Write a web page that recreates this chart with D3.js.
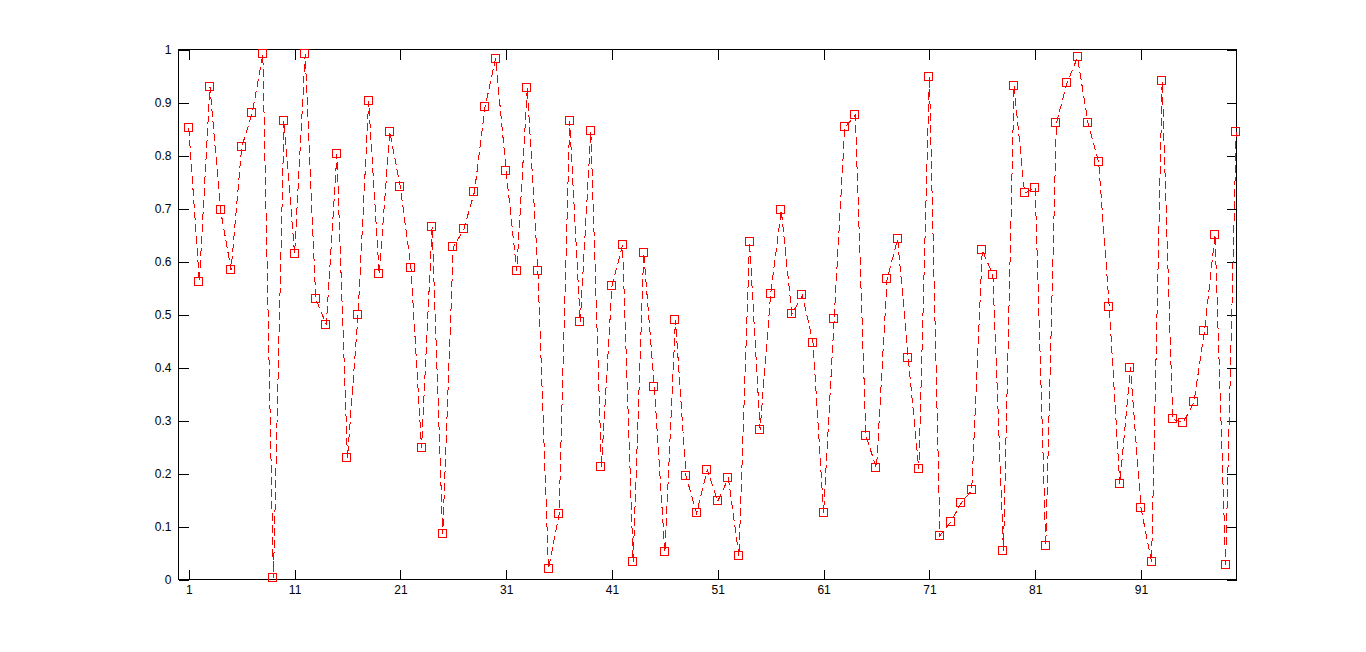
<!DOCTYPE html>
<html>
<head>
<meta charset="utf-8">
<script src="https://cdn.jsdelivr.net/npm/d3@7"></script>
<style>
html, body { margin: 0; padding: 0; background: #ffffff; overflow: hidden; }
svg { display: block; }
</style>
</head>
<body>
<svg id="chart" width="1366" height="652"></svg>
<script>
// ---- data ----
const xIndex = [1,2,3,4,5,6,7,8,9,10,11,12,13,14,15,16,17,18,19,20,
  21,22,23,24,25,26,27,28,29,30,31,32,33,34,35,36,37,38,39,40,
  41,42,43,44,45,46,47,48,49,50,51,52,53,54,55,56,57,58,59,60,
  61,62,63,64,65,66,67,68,69,70,71,72,73,74,75,76,77,78,79,80,
  81,82,83,84,85,86,87,88,89,90,91,92,93,94,95,96,97,98,99,100];

const yValues = [0.852,0.562,0.930,0.697,0.584,0.816,0.880,0.991,0.002,0.866,
  0.614,0.991,0.530,0.481,0.802,0.229,0.500,0.902,0.576,0.845,
  0.740,0.588,0.249,0.666,0.085,0.627,0.661,0.731,0.891,0.983,
  0.770,0.582,0.928,0.582,0.020,0.123,0.865,0.486,0.846,0.212,
  0.554,0.631,0.033,0.616,0.364,0.051,0.490,0.195,0.125,0.207,
  0.148,0.191,0.044,0.637,0.283,0.539,0.697,0.501,0.536,0.447,
  0.125,0.492,0.853,0.876,0.271,0.210,0.567,0.642,0.418,0.208,
  0.949,0.083,0.108,0.144,0.168,0.621,0.575,0.053,0.932,0.729,
  0.739,0.064,0.861,0.936,0.985,0.861,0.787,0.515,0.180,0.400,
  0.135,0.033,0.940,0.302,0.296,0.334,0.469,0.650,0.027,0.844];

const xTickValues = [1,11,21,31,41,51,61,71,81,91];
const xTickLabels = ["1","11","21","31","41","51","61","71","81","91"];
const yTickValues = [0,0.1,0.2,0.3,0.4,0.5,0.6,0.7,0.8,0.9,1];
const yTickLabels = ["0","0.1","0.2","0.3","0.4","0.5","0.6","0.7","0.8","0.9","1"];

// ---- layout ----
const svg = d3.select("#chart");
const boxLeft = 178.5, boxRight = 1236.5, boxTop = 49.5, boxBottom = 579.5;

const x = d3.scaleLinear().domain([0, 100]).range([178.2, 1236.2]);
const y = d3.scaleLinear().domain([0, 1]).range([boxBottom, boxTop]);

const fontFamily = "'Liberation Sans', Arial, Helvetica, sans-serif";

// box
svg.append("rect")
  .attr("x", boxLeft).attr("y", boxTop)
  .attr("width", boxRight - boxLeft).attr("height", boxBottom - boxTop)
  .attr("fill", "none").attr("stroke", "#000").attr("stroke-width", 1)
  .attr("shape-rendering", "crispEdges");

function styleAxis(g, showText) {
  g.select(".domain").remove();
  g.selectAll(".tick line").attr("stroke", "#000").attr("shape-rendering", "crispEdges");
  g.selectAll(".tick text")
    .attr("fill", "#000")
    .style("font-family", fontFamily)
    .style("font-size", "12px");
  if (!showText) g.selectAll(".tick text").remove();
}

// bottom axis
svg.append("g")
  .attr("transform", `translate(0,${boxBottom})`)
  .call(d3.axisBottom(x).tickValues(xTickValues)
    .tickFormat((d, i) => xTickLabels[i]).tickSize(-10).tickPadding(6))
  .call(g => styleAxis(g, true));

// top axis (ticks only)
svg.append("g")
  .attr("transform", `translate(0,${boxTop})`)
  .call(d3.axisTop(x).tickValues(xTickValues).tickSize(-10))
  .call(g => styleAxis(g, false));

// left axis
svg.append("g")
  .attr("transform", `translate(${boxLeft},0)`)
  .call(d3.axisLeft(y).tickValues(yTickValues)
    .tickFormat((d, i) => yTickLabels[i]).tickSize(-10).tickPadding(7))
  .call(g => styleAxis(g, true));

// right axis (ticks only)
svg.append("g")
  .attr("transform", `translate(${boxRight},0)`)
  .call(d3.axisRight(y).tickValues(yTickValues).tickSize(-10))
  .call(g => styleAxis(g, false));

const pts = xIndex.map((d, i) => [d, yValues[i]]);

// dashed line
svg.append("path")
  .datum(pts)
  .attr("d", d3.line().x(d => x(d[0])).y(d => y(d[1])))
  .attr("fill", "none")
  .attr("stroke", "#ff0000")
  .attr("stroke-width", 1)
  .attr("stroke-dasharray", "8,4")
  .attr("shape-rendering", "crispEdges");

// square markers
svg.append("g").selectAll("rect")
  .data(pts)
  .join("rect")
  .attr("x", d => Math.round(x(d[0])) - 4.5)
  .attr("y", d => Math.round(y(d[1])) - 4.5)
  .attr("width", 8).attr("height", 8)
  .attr("fill", "none")
  .attr("stroke", "#ff0000")
  .attr("stroke-width", 1)
  .attr("shape-rendering", "crispEdges");
</script>
</body>
</html>
